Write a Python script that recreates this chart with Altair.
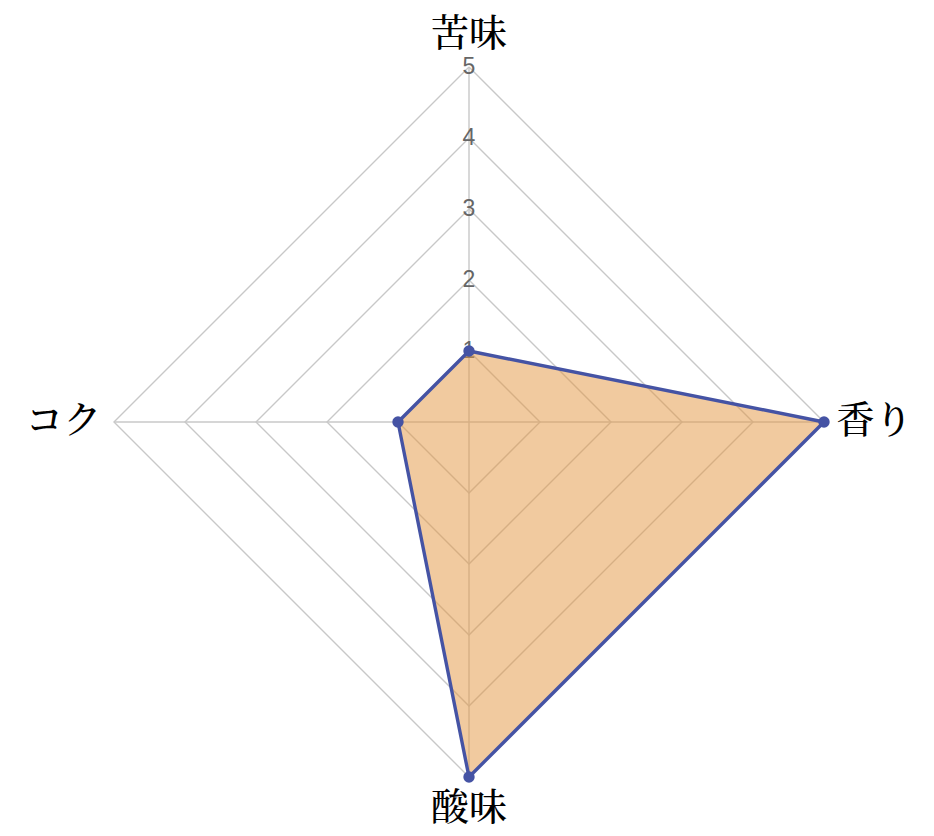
import altair as alt
import pandas as pd

categories = ["苦味", "香り", "酸味", "コク"]
values = [1, 5, 5, 1]
ticks = [1, 2, 3, 4, 5]
max_value = 5

n = len(categories)

# data polygon (closed)
poly_rows = []
for k in range(n + 1):
    i = k % n
    poly_rows.append({"cat": categories[i], "idx": i, "value": values[i], "order": k})
poly = pd.DataFrame(poly_rows)
pts = poly.iloc[:n]

# grid polygons
grid_rows = []
for t in ticks:
    for k in range(n + 1):
        grid_rows.append({"level": t, "idx": k % n, "value": t, "order": k})
grid = pd.DataFrame(grid_rows)

spokes = pd.DataFrame({"idx": list(range(n)), "value": [max_value] * n})
labels = pd.DataFrame({"cat": categories, "idx": list(range(n))})
tick_df = pd.DataFrame({"value": ticks, "idx": [0] * len(ticks), "txt": [str(t) for t in ticks]})

xs = alt.Scale(domain=[-max_value, max_value], nice=False, zero=False)
ys = alt.Scale(domain=[-max_value, max_value], nice=False, zero=False)

def xy(ch):
    return ch.transform_calculate(
        px="datum.value * sin(datum.idx * PI / 2)",
        py="datum.value * cos(datum.idx * PI / 2)",
    )

X = alt.X("px:Q", scale=xs, axis=None)
Y = alt.Y("py:Q", scale=ys, axis=None)

grid_layer = xy(alt.Chart(grid)).mark_line(stroke="#c8c8c8", strokeWidth=1.4).encode(
    x=X, y=Y, detail="level:N", order=alt.Order("order:Q")
)

spoke_layer = xy(alt.Chart(spokes)).mark_rule(stroke="#c8c8c8", strokeWidth=1.4).encode(
    x=alt.X("zx:Q", scale=xs, axis=None),
    y=alt.Y("zy:Q", scale=ys, axis=None),
    x2="px:Q",
    y2="py:Q",
).transform_calculate(zx="0", zy="0")

tick_layer = xy(alt.Chart(tick_df)).mark_text(
    font="Helvetica, Arial, Liberation Sans, sans-serif", fontSize=23, color="#666666",
    baseline="middle", align="center"
).encode(x=X, y=Y, text="txt:N")

fill_layer = xy(alt.Chart(poly)).mark_line(
    fill="#e3953f", fillOpacity=0.5, stroke="#4553a4", strokeWidth=3.4, strokeJoin="round"
).encode(x=X, y=Y, order=alt.Order("order:Q"))

point_layer = xy(alt.Chart(pts)).mark_circle(size=130, color="#4553a4", opacity=1).encode(x=X, y=Y)

label_layer = alt.Chart(labels).transform_calculate(
    r="5.45 + 0.26 * abs(sin(datum.idx * PI / 2))",
    px="datum.r * sin(datum.idx * PI / 2)",
    py="datum.r * cos(datum.idx * PI / 2)",
).mark_text(
    font="Noto Serif CJK JP, serif, Noto Sans CJK JP", fontSize=38, color="#000000",
    fontWeight=500, baseline="middle", align="center"
).encode(x=X, y=Y, text="cat:N")

chart = alt.layer(
    grid_layer, spoke_layer, tick_layer, fill_layer, point_layer, label_layer
).properties(
    width=710, height=710,
    background="white",
    autosize=alt.AutoSizeParams(type="none"),
    padding={"left": 114, "top": 67, "right": 110, "bottom": 59},
).configure_view(strokeWidth=0, stroke="transparent")

chart.save("out.html", embed_options={"renderer": "svg", "actions": False})
